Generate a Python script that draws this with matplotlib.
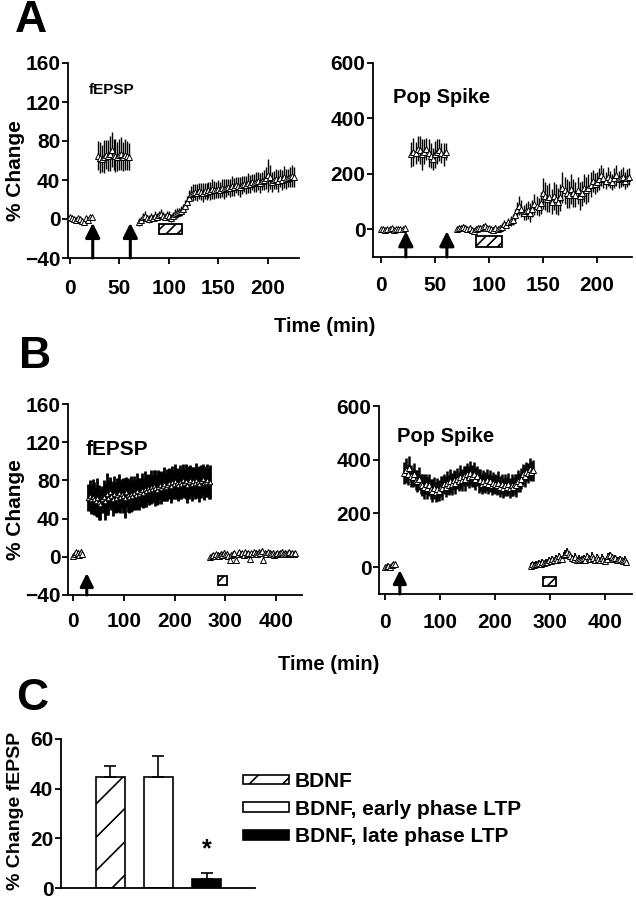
import numpy as np
import matplotlib
matplotlib.use('Agg')
import matplotlib.pyplot as plt
from matplotlib.patches import Rectangle

plt.rcParams['font.family'] = ['Liberation Sans', 'DejaVu Sans']
plt.rcParams['font.weight'] = 'bold'
plt.rcParams['hatch.linewidth'] = 1.2

# ---------------- Panel A, fEPSP ----------------
A_F1_T0, A_F1_STEP = 0, 2
A_F1_VAL = [2, 1, 0, -1, 1, 0, -2, -3, 1, -1, 2, 2]
A_F1_ERR = [2, 2, 2, 2, 2, 2, 2, 2, 2, 2, 2, 2]

A_F2_T0, A_F2_STEP = 28, 2
A_F2_VAL = [65, 63, 62, 64, 66, 65, 67, 71, 66, 65, 64, 66, 67, 64, 66, 65, 64]
A_F2_ERR = [15, 16, 14, 17, 15, 16, 18, 18, 16, 17, 15, 16, 17, 15, 16, 15, 14]

A_F3_T0, A_F3_STEP = 70, 2
A_F3_VAL = [-3, -1, 2, 3, 1, 0, 2, 1, 3, 2,
            4, 5, 3, 2, 4, 3, 1, 3, 5, 6,
            7, 8, 10, 13, 17, 22, 26, 27, 28, 27,
            29, 28, 27, 29, 28, 30, 29, 31, 30, 30,
            31, 30, 32, 31, 32, 33, 32, 34, 33, 35,
            34, 33, 35, 36, 35, 37, 36, 38, 37, 38,
            39, 37, 39, 40, 42, 45, 43, 38, 40, 41,
            39, 42, 40, 43, 41, 42, 43, 44, 43]
A_F3_ERR = [4, 3, 4, 5, 3, 4, 4, 3, 5, 4,
            4, 5, 4, 3, 4, 5, 4, 4, 5, 5,
            4, 5, 5, 6, 7, 8, 8, 9, 8, 9,
            8, 9, 10, 8, 9, 8, 9, 10, 9, 8,
            9, 8, 9, 10, 9, 8, 9, 10, 9, 8,
            9, 10, 9, 8, 9, 10, 9, 8, 9, 10,
            9, 10, 9, 10, 11, 17, 12, 10, 9, 10,
            11, 9, 10, 11, 10, 9, 10, 11, 10]

# ---------------- Panel A, Pop Spike ----------------
A_P1_T0, A_P1_STEP = 0, 2
A_P1_VAL = [0, 2, -1, 1, 0, 3, -2, 1, 0, 2, 1, 3]
A_P1_ERR = [5, 4, 5, 6, 4, 5, 5, 4, 6, 5, 4, 5]

A_P2_T0, A_P2_STEP = 28, 2
A_P2_VAL = [270, 280, 275, 290, 285, 270, 280, 290, 275, 265, 255, 270, 280, 285, 275, 270, 280]
A_P2_ERR = [45, 50, 40, 45, 50, 55, 45, 40, 50, 45, 40, 50, 45, 40, 35, 40, 30]

A_P3_T0, A_P3_STEP = 70, 2
A_P3_VAL = [0, 5, 3, 8, 5, 2, 5, -3, -5, 0,
            5, 3, 8, 12, 5, 3, 0, -2, 3, 0,
            5, 10, 20, 15, 25, 30, 35, 50, 70, 85,
            75, 60, 65, 70, 60, 75, 90, 85, 80, 95,
            130, 120, 110, 115, 100, 120, 110, 100, 115, 150,
            140, 130, 125, 145, 130, 125, 140, 120, 130, 150,
            140, 150, 160, 175, 165, 170, 180, 195, 185, 175,
            190, 180, 170, 185, 195, 180, 185, 190, 175, 185, 190]
A_P3_ERR = [8, 10, 8, 12, 10, 8, 10, 12, 10, 8,
            10, 12, 10, 12, 8, 10, 8, 10, 12, 10,
            10, 12, 15, 12, 15, 18, 20, 25, 30, 35,
            30, 28, 30, 32, 35, 30, 38, 35, 32, 40,
            55, 50, 48, 52, 45, 50, 55, 48, 50, 55,
            50, 52, 48, 55, 50, 45, 50, 52, 45, 50,
            48, 50, 45, 40, 38, 35, 40, 38, 35, 30,
            35, 32, 30, 35, 38, 30, 32, 35, 30, 32, 30]

# ---------------- Panel B, fEPSP ----------------
B_F1_T0, B_F1_STEP = 0, 3
B_F1_VAL = [1, 3, 5, 4, 2, 5, 3]
B_F1_ERR = [2, 3, 2, 3, 2, 3, 2]

B_F2_T0, B_F2_STEP = 30, 3
B_F2_VAL = [62, 64, 60, 63, 61, 58, 62, 57, 55, 60,
            63, 58, 66, 62, 68, 64, 60, 66, 62, 65,
            67, 63, 66, 64, 62, 68, 65, 63, 66, 64,
            67, 65, 69, 66, 68, 70, 67, 71, 69, 72,
            70, 73, 71, 74, 72, 70, 73, 75, 72, 74,
            76, 73, 75, 77, 74, 78, 76, 79, 77, 75,
            78, 76, 80, 77, 79, 75, 78, 80, 76, 79,
            77, 80, 78, 76, 79, 81, 77, 78, 80, 77, 78]
B_F2_ERR = [14, 16, 15, 18, 17, 15, 20, 18, 16, 14,
            17, 19, 22, 18, 16, 15, 17, 19, 16, 18,
            20, 17, 15, 18, 21, 16, 18, 17, 19, 16,
            18, 16, 19, 17, 15, 18, 16, 19, 17, 15,
            16, 18, 15, 17, 19, 16, 18, 15, 17, 16,
            18, 15, 17, 16, 18, 17, 15, 18, 16, 17,
            18, 16, 17, 15, 18, 19, 17, 16, 18, 15,
            17, 18, 16, 19, 17, 16, 18, 15, 17, 16, 18]

B_F3_T0, B_F3_STEP = 270, 3
B_F3_VAL = [0, 1, 2, 1, 3, 2, 1, 3, 2, 4,
            2, 3, 1, -3, 2, 3, 4, -3, 3, 5,
            3, 4, 2, 5, 3, 4, -2, 4, 3, 5,
            4, 3, 5, 4, 6, -3, 4, 3, 5, 4,
            3, 4, 2, 3, 4, 3, 4, 5, 3, 4,
            3, 4, 5, 3, 4, 3, 4]
B_F3_ERR = [2, 3, 2, 3, 2, 3, 2, 3, 2, 3,
            2, 3, 2, 1, 2, 3, 2, 1, 3, 2,
            3, 2, 3, 2, 3, 2, 1, 2, 3, 2,
            3, 2, 3, 2, 3, 1, 2, 3, 2, 3,
            2, 3, 2, 3, 2, 3, 2, 3, 2, 3,
            2, 3, 2, 3, 2, 3, 2]

# ---------------- Panel B, Pop Spike ----------------
B_P1_T0, B_P1_STEP = 0, 3
B_P1_VAL = [0, 3, 5, 2, 8, 10, 12]
B_P1_ERR = [8, 6, 8, 7, 6, 8, 6]

B_P2_T0, B_P2_STEP = 35, 3
B_P2_VAL = [350, 360, 345, 370, 340, 335, 345, 325, 320, 330,
            310, 305, 300, 310, 295, 305, 290, 285, 295, 280,
            290, 285, 300, 295, 310, 300, 315, 305, 320, 310,
            325, 315, 330, 320, 335, 325, 340, 330, 345, 335,
            350, 340, 345, 330, 340, 320, 325, 310, 320, 315,
            325, 310, 320, 305, 315, 310, 305, 315, 300, 310,
            295, 305, 300, 310, 295, 305, 300, 310, 305, 320,
            315, 330, 345, 340, 355, 350, 365, 355, 360]
B_P2_ERR = [40, 45, 38, 42, 40, 36, 44, 38, 40, 42,
            38, 40, 45, 36, 42, 40, 38, 44, 40, 36,
            42, 38, 40, 44, 36, 40, 42, 38, 45, 40,
            38, 42, 40, 36, 44, 40, 38, 48, 42, 40,
            45, 40, 48, 42, 38, 44, 40, 36, 42, 38,
            40, 36, 42, 38, 40, 36, 38, 42, 40, 36,
            38, 40, 36, 42, 38, 40, 36, 38, 42, 40,
            36, 40, 38, 42, 36, 38, 40, 36, 38]

B_P3_T0, B_P3_STEP = 265, 3
B_P3_VAL = [5, 10, 8, 12, 10, 15, 12, 18, 15, 20,
            18, 25, 22, 30, 25, 35, 28, 40, 32, 30,
            45, 50, 55, 48, 40, 35, 30, 38, 28, 32,
            25, 30, 35, 28, 40, 33, 30, 42, 35, 28,
            38, 30, 25, 35, 28, 22, 30, 40, 45, 38,
            30, 35, 28, 25, 30, 25, 22, 28, 20]
B_P3_ERR = [10, 8, 12, 10, 9, 12, 10, 11, 9, 12,
            10, 12, 11, 13, 10, 12, 14, 12, 10, 13,
            12, 14, 15, 12, 13, 11, 12, 14, 10, 12,
            11, 13, 12, 10, 14, 12, 11, 13, 12, 10,
            12, 11, 10, 13, 12, 11, 10, 14, 13, 12,
            11, 12, 10, 11, 12, 10, 11, 12, 10]

# ---------------- Annotations (stimulus arrows, BDNF boxes) ----------------
A_ARROWS_T = [23, 61]
B_ARROWS_T = [27]
A_F_BOX = (90, 113, -15, -5)     # t_start, t_end, y_low, y_high
A_P_BOX = (88, 112, -65, -25)
B_F_BOX = (285, 303, -30, -20)
B_P_BOX = (287, 310, -72, -38)

# ---------------- Panel C ----------------
C_LABELS = ['BDNF', 'BDNF, early phase LTP', 'BDNF, late phase LTP']
C_VALUES = [44.5, 44.5, 3.5]
C_ERRORS = [4.8, 8.6, 2.7]

# ======================================================================
W, H = 636, 900
fig = plt.figure(figsize=(W / 100, H / 100), dpi=100)


def ax_px(l, t, r, b):
    return fig.add_axes([l / W, 1 - b / H, (r - l) / W, (b - t) / H])


def style(ax, xlim, ylim, xticks, yticks, xpad, labelsize=15):
    ax.set_xlim(xlim)
    ax.set_ylim(ylim)
    ax.set_xticks(xticks)
    ax.set_yticks(yticks)
    ax.patch.set_alpha(0)
    for s in ['top', 'right']:
        ax.spines[s].set_visible(False)
    for s in ['left', 'bottom']:
        ax.spines[s].set_linewidth(1.3)
    ax.tick_params(axis='both', direction='out', length=4, width=1.3,
                   labelsize=labelsize)
    ax.tick_params(axis='x', pad=xpad)
    ax.tick_params(axis='y', pad=1.5)


def series(ax, t0, step, vals, errs, ms=4.8, elw=1.0):
    t = t0 + step * np.arange(len(vals))
    ax.errorbar(t, vals, yerr=errs, fmt='^', ms=ms, mfc='white', mec='black',
                mew=0.7, ecolor='black', elinewidth=elw, capsize=0, zorder=3)


def arrow(ax, x, tip, base, ms=22):
    ax.annotate('', xy=(x, tip), xytext=(x, base),
                arrowprops=dict(arrowstyle='-|>', color='black', lw=2.2,
                                mutation_scale=ms, shrinkA=0, shrinkB=0),
                annotation_clip=False)


def box(ax, spec, hatch='///'):
    t1, t2, y1, y2 = spec
    ax.add_patch(Rectangle((t1, y1), t2 - t1, y2 - y1, facecolor='white',
                           edgecolor='black', lw=1.3, hatch=hatch, zorder=4))


# ---- A left: fEPSP
axA1 = ax_px(68, 63, 299, 258)
style(axA1, (-2, 231.5), (-40, 160), [0, 50, 100, 150, 200],
      [-40, 0, 40, 80, 120, 160], xpad=11)
series(axA1, A_F1_T0, A_F1_STEP, A_F1_VAL, A_F1_ERR)
series(axA1, A_F2_T0, A_F2_STEP, A_F2_VAL, A_F2_ERR)
series(axA1, A_F3_T0, A_F3_STEP, A_F3_VAL, A_F3_ERR)
for t in A_ARROWS_T:
    arrow(axA1, t, -4, -40)
box(axA1, A_F_BOX)
axA1.text(19, 132, 'fEPSP', fontsize=11, va='center', ha='left')

# ---- A right: Pop Spike
axA2 = ax_px(373, 63, 632, 257)
style(axA2, (-7.4, 232.4), (-100, 600), [0, 50, 100, 150, 200],
      [0, 200, 400, 600], xpad=10)
series(axA2, A_P1_T0, A_P1_STEP, A_P1_VAL, A_P1_ERR)
series(axA2, A_P2_T0, A_P2_STEP, A_P2_VAL, A_P2_ERR)
series(axA2, A_P3_T0, A_P3_STEP, A_P3_VAL, A_P3_ERR)
for t in A_ARROWS_T:
    arrow(axA2, t, -7, -100)
box(axA2, A_P_BOX)
axA2.text(11, 476, 'Pop Spike', fontsize=14.5, va='center', ha='left')

# ---- B left: fEPSP
axB1 = ax_px(68, 404, 302, 595)
style(axB1, (-10, 451), (-40, 160), [0, 100, 200, 300, 400],
      [-40, 0, 40, 80, 120, 160], xpad=8)
series(axB1, B_F1_T0, B_F1_STEP, B_F1_VAL, B_F1_ERR, ms=4)
series(axB1, B_F2_T0, B_F2_STEP, B_F2_VAL, B_F2_ERR, ms=3.2, elw=2.0)
series(axB1, B_F3_T0, B_F3_STEP, B_F3_VAL, B_F3_ERR, ms=4)
for t in B_ARROWS_T:
    arrow(axB1, t, -17, -40, ms=20)
box(axB1, B_F_BOX)
axB1.text(24, 112, 'fEPSP', fontsize=15, va='center', ha='left')

# ---- B right: Pop Spike
axB2 = ax_px(379, 406, 632, 594)
style(axB2, (-10.9, 449), (-100, 600), [0, 100, 200, 300, 400],
      [0, 200, 400, 600], xpad=10)
series(axB2, B_P1_T0, B_P1_STEP, B_P1_VAL, B_P1_ERR, ms=4)
series(axB2, B_P2_T0, B_P2_STEP, B_P2_VAL, B_P2_ERR, ms=4, elw=1.8)
series(axB2, B_P3_T0, B_P3_STEP, B_P3_VAL, B_P3_ERR, ms=4, elw=1.3)
for t in B_ARROWS_T:
    arrow(axB2, t, -11, -100, ms=20)
box(axB2, B_P_BOX)
axB2.text(22, 485, 'Pop Spike', fontsize=14.5, va='center', ha='left')

# ---- C: bar chart
axC = ax_px(61, 739, 255, 888)
pos = np.arange(1, len(C_LABELS) + 1)
styles = [dict(facecolor='white', hatch='/'),
          dict(facecolor='white'),
          dict(facecolor='black')]
for p, v, e, lab, st in zip(pos, C_VALUES, C_ERRORS, C_LABELS, styles):
    axC.bar(p, v, width=0.6, edgecolor='black', linewidth=1.2, label=lab,
            zorder=2, **st)
    axC.errorbar(p, v, yerr=[[0], [e]], fmt='none', ecolor='black',
                 elinewidth=1.2, capsize=4, capthick=1.2, zorder=3)
style(axC, (-0.03, 4.01), (0, 60), [], [0, 20, 40, 60], xpad=2, labelsize=15)
axC.tick_params(axis='x', length=0)
axC.text(pos[2], 15.5, '*', ha='center', va='center', fontsize=18)
leg = axC.legend(loc='upper left', bbox_to_anchor=(243 / W, 1 - 772 / H),
                 bbox_transform=fig.transFigure, frameon=False, fontsize=15,
                 handlelength=2.2, handleheight=0.35, handletextpad=0.3,
                 labelspacing=0.42, borderpad=0, borderaxespad=0)

# ---- figure texts
fig.text(31 / W, 1 - 20 / H, 'A', fontsize=32, ha='center', va='center')
fig.text(35 / W, 1 - 357 / H, 'B', fontsize=32, ha='center', va='center')
fig.text(32 / W, 1 - 699 / H, 'C', fontsize=32, ha='center', va='center')
fig.text(325 / W, 1 - 327 / H, 'Time (min)', fontsize=14.5, ha='center', va='center')
fig.text(329 / W, 1 - 664 / H, 'Time (min)', fontsize=14.5, ha='center', va='center')
fig.text(16 / W, 1 - 171 / H, '% Change', fontsize=15, rotation=90,
         ha='center', va='center')
fig.text(16 / W, 1 - 510 / H, '% Change', fontsize=15, rotation=90,
         ha='center', va='center')
fig.text(16 / W, 1 - 811 / H, '% Change fEPSP', fontsize=14, rotation=90,
         ha='center', va='center')

fig.savefig('out.png', dpi=100)
